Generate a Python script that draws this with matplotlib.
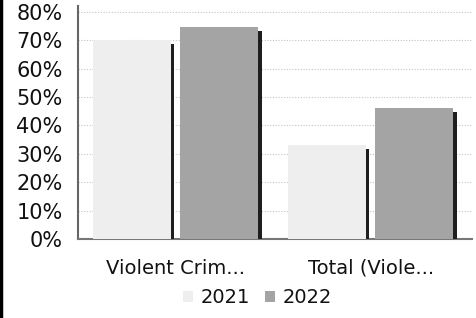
import matplotlib.pyplot as plt
import numpy as np
from matplotlib.lines import Line2D

categories = ["Violent Crim...", "Total (Viole..."]
years = ["2021", "2022"]
values_2021 = [0.70, 0.33]
values_2022 = [0.745, 0.46]

color_2021 = "#eeeeee"
color_2022 = "#a4a4a4"
shadow = "#1e1e1e"

fig = plt.figure(figsize=(4.77, 3.18), dpi=100)
ax = fig.add_axes([0.1635, 0.248, 0.826, 0.733])

x = np.arange(len(categories))
w = 0.40
off = 0.225

for vals, dx, col, lab in [(values_2021, -off, color_2021, years[0]),
                           (values_2022, off, color_2022, years[1])]:
    ax.bar(x + dx, vals, width=w, color=col, label=lab, zorder=3)
    # dark side face of the pseudo-3D bar
    ax.bar(x + dx + w/2 + 0.008, np.array(vals) - 0.012, width=0.016,
           color=shadow, zorder=3)

ax.set_xlim(-0.5, 1.52)
ax.set_ylim(0, 0.82)
ax.set_yticks(np.arange(0, 0.81, 0.1))
ax.set_yticklabels([f"{int(round(v*100))}%" for v in np.arange(0, 0.81, 0.1)])
ax.set_xticks(x)
ax.set_xticklabels(categories)
ax.tick_params(axis="y", length=0, pad=11, labelsize=15, labelcolor="#111111")
ax.tick_params(axis="x", length=0, pad=14, labelsize=14, labelcolor="#111111")

ax.grid(axis="y", linestyle=(0, (1, 1.5)), color="#c4c4c4", linewidth=0.8, zorder=0)
ax.set_axisbelow(True)

for s in ["top", "right"]:
    ax.spines[s].set_visible(False)
ax.spines["left"].set_color("#666666")
ax.spines["left"].set_linewidth(1.5)
ax.spines["bottom"].set_color("#777777")
ax.spines["bottom"].set_linewidth(1.5)

handles, labels = ax.get_legend_handles_labels()
fig.legend(handles, labels, loc="center", bbox_to_anchor=(0.54, 0.063), ncol=2,
           frameon=False, fontsize=14, handlelength=0.5, handleheight=0.5,
           handletextpad=0.4, columnspacing=0.8, labelcolor="#111111")

fig.add_artist(Line2D([0.003, 0.003], [0, 1], color="black", linewidth=2.5,
                      transform=fig.transFigure))

plt.savefig("out.png", dpi=100)
